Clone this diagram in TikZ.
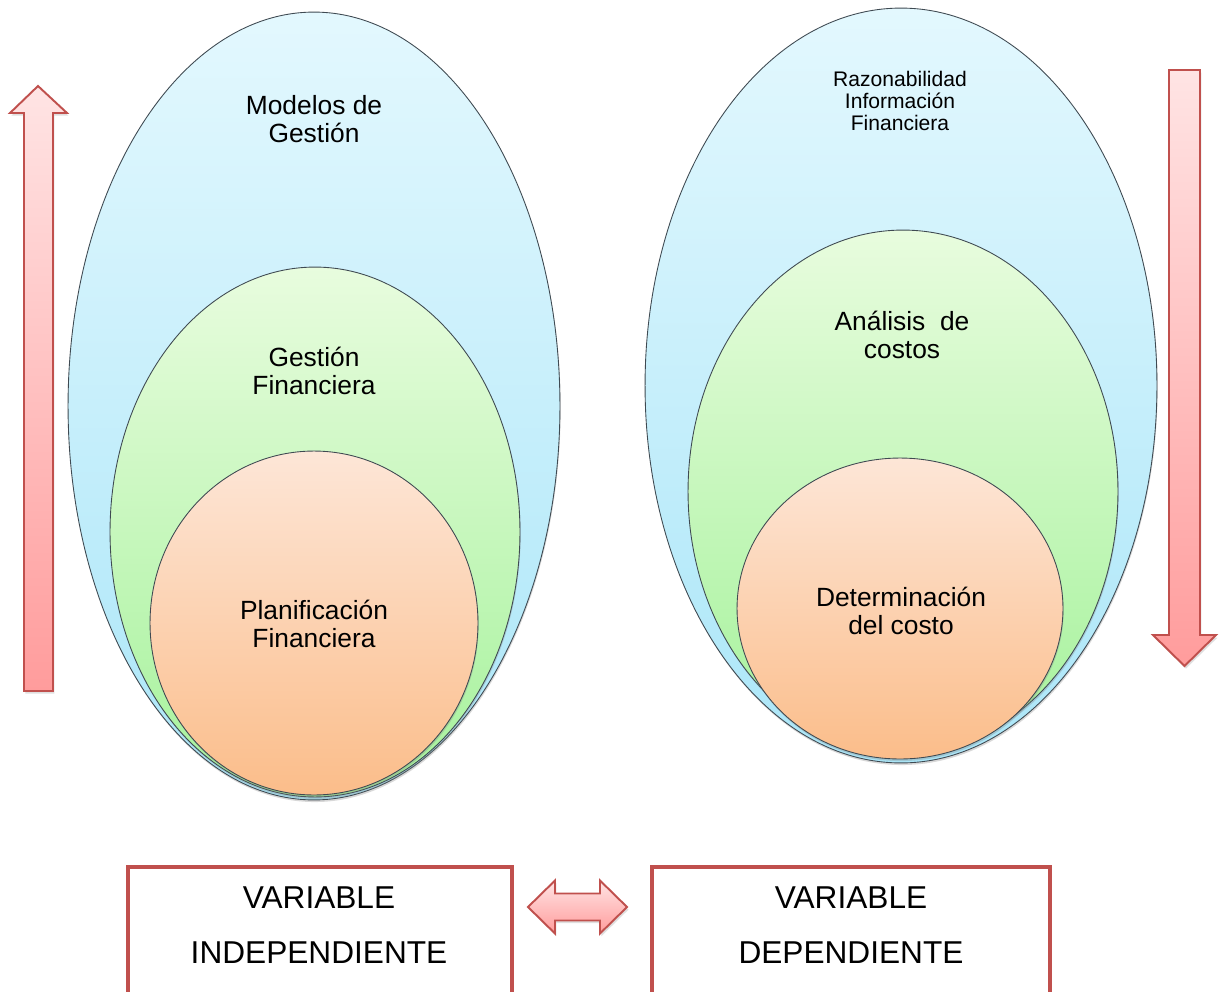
\documentclass[tikz,border=0pt]{standalone}
\usepackage{fontspec}
\setmainfont{Liberation Sans}
\usetikzlibrary{shapes.geometric,shadows}

\definecolor{bordergray}{HTML}{3F4A52}
\definecolor{arrowred}{HTML}{C0504D}
\definecolor{bluetop}{HTML}{E3F8FE}
\definecolor{bluebot}{HTML}{ABE6F8}
\definecolor{greentop}{HTML}{E8FCDE}
\definecolor{greenbot}{HTML}{A5F29B}
\definecolor{orangetop}{HTML}{FDE6D7}
\definecolor{orangebot}{HTML}{FBBD8A}
\definecolor{pinktop}{HTML}{FFE4E4}
\definecolor{pinkbot}{HTML}{FF9C9C}

\tikzset{
	oval/.style={ellipse, draw=bordergray, line width=0.5pt, inner sep=0pt, outer sep=0pt,
		drop shadow={opacity=0.3, shadow xshift=0.4pt, shadow yshift=-1.2pt}},
	blueoval/.style={oval, top color=bluetop, bottom color=bluebot},
	greenoval/.style={oval, top color=greentop, bottom color=greenbot},
	orangeoval/.style={oval, top color=orangetop, bottom color=orangebot},
	ovaltext/.style={align=center, font=\fontsize{15}{15.9}\selectfont},
	blockarrow/.style={draw=arrowred, line width=1.1pt, line join=miter, top color=pinktop, bottom color=pinkbot,
		drop shadow={opacity=0.25, shadow xshift=0.8pt, shadow yshift=-1.5pt}},
	varbox/.style={rectangle, draw=arrowred, line width=2.3pt, fill=white, inner sep=0pt},
	boxtext/.style={align=center, font=\fontsize{18}{31.2}\selectfont}
}

\begin{document}
\begin{tikzpicture}[x=0.02cm, y=-0.02cm]
	\path[use as bounding box, clip] (0,0) rectangle (1224,991);
	\fill[white] (0,0) rectangle (1224,991);

	% left set of ovals
	\node[blueoval, minimum width=9.84cm, minimum height=15.76cm] (modelos) at (314,406) {};
	\node[greenoval, minimum width=8.2cm, minimum height=10.6cm] (gestion) at (315,532) {};
	\node[orangeoval, minimum width=6.56cm, minimum height=6.88cm] (planif) at (314,623) {};
	\node[ovaltext] (modelostxt) at (314,119) {Modelos de\\Gestión};
	\node[ovaltext] (gestiontxt) at (314,371) {Gestión\\Financiera};
	\node[ovaltext] (planiftxt) at (314,624) {Planificación\\Financiera};

	% right set of ovals
	\node[blueoval, minimum width=10.24cm, minimum height=15.1cm] (razon) at (901,385.5) {};
	\node[greenoval, minimum width=8.6cm, minimum height=10.46cm] (analisis) at (903,491.5) {};
	\node[orangeoval, minimum width=6.52cm, minimum height=6.02cm] (determ) at (900,608.5) {};
	\node[align=center, font=\fontsize{12}{12.5}\selectfont] (razontxt) at (900,101) {Razonabilidad\\Información\\Financiera};
	\node[ovaltext] (analisistxt) at (902,335) {Análisis~ de\\costos};
	\node[ovaltext] (determtxt) at (901,611) {Determinación\\del costo};

	% up and down arrows
	\draw[blockarrow] (38,86) -- (67,113) -- (53,113) -- (53,691) -- (24,691) -- (24,113) -- (10,113) -- cycle;
	\draw[blockarrow] (1184.5,666) -- (1216,635) -- (1200,635) -- (1200,70) -- (1169,70) -- (1169,635) -- (1153,635) -- cycle;

	% variables
	\node[varbox, minimum width=7.68cm, minimum height=3.4cm, anchor=north] (indep) at (320,865) {};
	\node[varbox, minimum width=7.96cm, minimum height=3.4cm, anchor=north] (dep) at (851,865) {};
	\node[boxtext] (indeptxt) at (319,925) {VARIABLE\\INDEPENDIENTE};
	\node[boxtext] (deptxt) at (851,925) {VARIABLE\\DEPENDIENTE};

	\draw[blockarrow] (528,907) -- (555,880.5) -- (555,893.5) -- (600,893.5) -- (600,880.5) -- (627,907)
		-- (600,933.5) -- (600,920.5) -- (555,920.5) -- (555,933.5) -- cycle;
\end{tikzpicture}
\end{document}
